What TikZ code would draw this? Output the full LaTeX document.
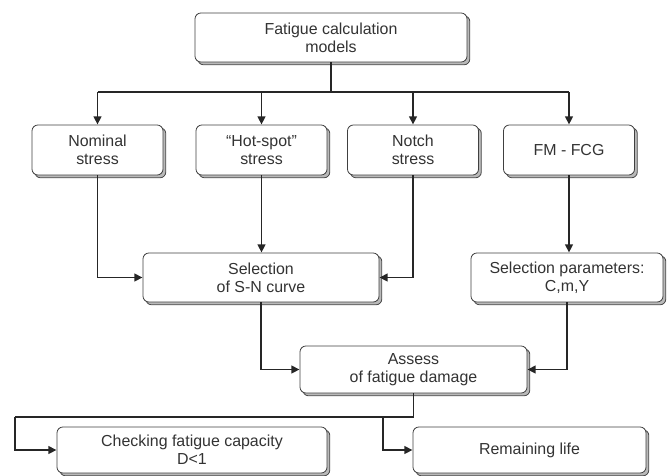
\documentclass[tikz,border=0pt]{standalone}
\usepackage{fontspec}
\setmainfont{Liberation Sans}
\usetikzlibrary{arrows.meta,shadows}

\tikzset{
    block/.style={draw=black!75, fill=white, rounded corners=5pt, line width=0.7pt,
        align=center, inner sep=0pt, text=black!80,
        font=\fontsize{13.6}{15.5}\selectfont,
        copy shadow={shadow xshift=2.4pt, shadow yshift=-2.4pt, fill=gray!55, draw=black!70}},
    link/.style={draw=black!85, line width=1.6pt},
    arr/.style={link, -{Triangle[length=7pt,width=6.5pt]}}
}

\begin{document}
\begin{tikzpicture}[x=0.03cm, y=-0.03cm]
        % Picture frame (pixel grid of the original, y pointing down)
        \useasboundingbox (0,0) rectangle (671,475);
        \clip (0,0) rectangle (671,475);

        % Top level
        \node[block, minimum width=8.16cm, minimum height=1.47cm] (models) at (331,37.5) {Fatigue calculation\\models};

        % Four approaches
        \node[block, minimum width=3.93cm, minimum height=1.5cm] (nominal) at (97.5,150) {Nominal\\stress};
        \node[block, minimum width=3.93cm, minimum height=1.5cm] (hotspot) at (261.5,150) {``Hot-spot''\\stress};
        \node[block, minimum width=3.93cm, minimum height=1.5cm] (notch) at (413,150) {Notch\\stress};
        \node[block, minimum width=3.93cm, minimum height=1.5cm] (fmfcg) at (569,150) {FM - FCG};

        % Selection step
        \node[block, minimum width=7.08cm, minimum height=1.47cm] (snsel) at (261,277.5) {Selection\\of S-N curve};
        \node[block, minimum width=5.76cm, minimum height=1.47cm] (parsel) at (567,277.5) {Selection parameters:\\C,m,Y};

        % Assessment
        \node[block, minimum width=6.81cm, minimum height=1.41cm] (assess) at (413.5,369.5) {Assess\\of fatigue damage};

        % Results
        \node[block, minimum width=8.1cm, minimum height=1.38cm] (checking) at (192,450) {Checking fatigue capacity\\D<1};
        \node[block, minimum width=6.99cm, minimum height=1.38cm] (remaining) at (529.5,450) {Remaining life};

        % Distribution bus below the top box
        \coordinate (bus) at (0,92);
        \draw[link] (models.south) -- (models.south |- bus);
        \draw[link] (nominal.north |- bus) -- (fmfcg.north |- bus);
        \foreach \n in {nominal,hotspot,notch,fmfcg}
            \draw[arr] (\n.north |- bus) -- (\n.north);

        % Into the selection boxes
        \draw[arr] (nominal.south) |- (snsel.west);
        \draw[arr] (hotspot.south) -- (hotspot.south |- snsel.north);
        \draw[arr] (notch.south) |- (snsel.east);
        \draw[arr] (fmfcg.south) -- (fmfcg.south |- parsel.north);

        % Into the assessment
        \draw[arr] (snsel.south) |- (assess.west);
        \draw[arr] (parsel.south) |- (assess.east);

        % Split to the results
        \coordinate (fork) at (assess.south |- 0,417);
        \coordinate (edge) at (15,417);
        \coordinate (tap) at (383,417);
        \draw[link] (assess.south) -- (fork) -- (edge);
        \draw[arr] (edge) |- (checking.west);
        \draw[arr] (tap) |- (remaining.west);
\end{tikzpicture}
\end{document}
